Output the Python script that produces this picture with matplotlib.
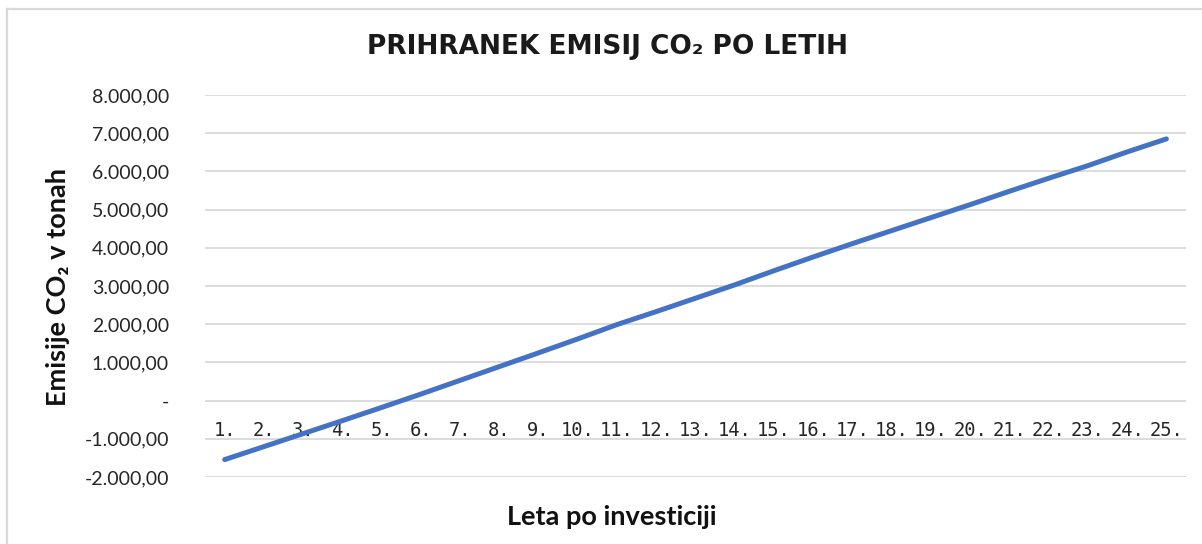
import matplotlib
matplotlib.use("Agg")
from matplotlib import pyplot as plt
from matplotlib.lines import Line2D
from matplotlib.ticker import FuncFormatter, MultipleLocator

# data
years = list(range(1, 26))
year_labels = [f"{y}." for y in years]
savings = [-1545, -1205, -865, -525, -180, 170, 530, 890, 1250, 1615,
           1990, 2330, 2680, 3030, 3400, 3760, 4110, 4450, 4790, 5130,
           5480, 5820, 6150, 6510, 6850]

TEXT_FONT = ["Lato", "DejaVu Sans"]


def fmt_sl(v, pos):
    # slovenian number format, zero shown as a dash like in Excel
    if abs(v) < 1e-9:
        return "-"
    s = f"{v:,.2f}"
    return s.replace(",", "X").replace(".", ",").replace("X", ".")


fig = plt.figure(figsize=(12.02, 5.44), dpi=100)
ax = fig.add_axes([0.1706, 0.1232, 0.8161, 0.7022])

ax.plot(years, savings, color="#4472C4", lw=3.6, solid_capstyle="round", zorder=3)

ax.set_xlim(0.5, 25.5)
ax.set_ylim(-2000, 8000)
ax.yaxis.set_major_locator(MultipleLocator(1000))
ax.yaxis.set_major_formatter(FuncFormatter(fmt_sl))
ax.grid(axis="y", color="#d9d9d9", lw=1.3)
ax.set_axisbelow(True)

for s in ax.spines.values():
    s.set_visible(False)
ax.spines["bottom"].set_position(("data", 0))

ax.set_xticks(years)
ax.set_xticklabels(year_labels, family="DejaVu Sans Mono", fontsize=13.5, color="#262626")
ax.tick_params(axis="x", length=0, pad=15)
ax.tick_params(axis="y", length=0, pad=26, labelsize=14, labelcolor="#262626")
for lbl in ax.get_yticklabels():
    lbl.set_family(TEXT_FONT)

fig.text(0.505, 0.914, "PRIHRANEK EMISIJ CO₂ PO LETIH", ha="center", va="center",
         fontsize=19, fontweight="bold", color="#1a1a1a", family=["DejaVu Sans"])
fig.text(0.048, 0.472, "Emisije CO₂ v tonah", rotation=90, ha="center", va="center",
         fontsize=19.5, fontweight="bold", color="#111111", family=TEXT_FONT)
fig.text(0.509, 0.05, "Leta po investiciji", ha="center", va="center",
         fontsize=19.5, fontweight="bold", color="#111111", family=TEXT_FONT)

# chart frame, only top and left edges are inside the picture
fig.add_artist(Line2D([0.0058, 1.0], [0.9835, 0.9835], color="#d9d9d9", lw=1.6))
fig.add_artist(Line2D([0.0058, 0.0058], [0.0, 0.9835], color="#d9d9d9", lw=1.6))

fig.savefig("out.png", dpi=100)
